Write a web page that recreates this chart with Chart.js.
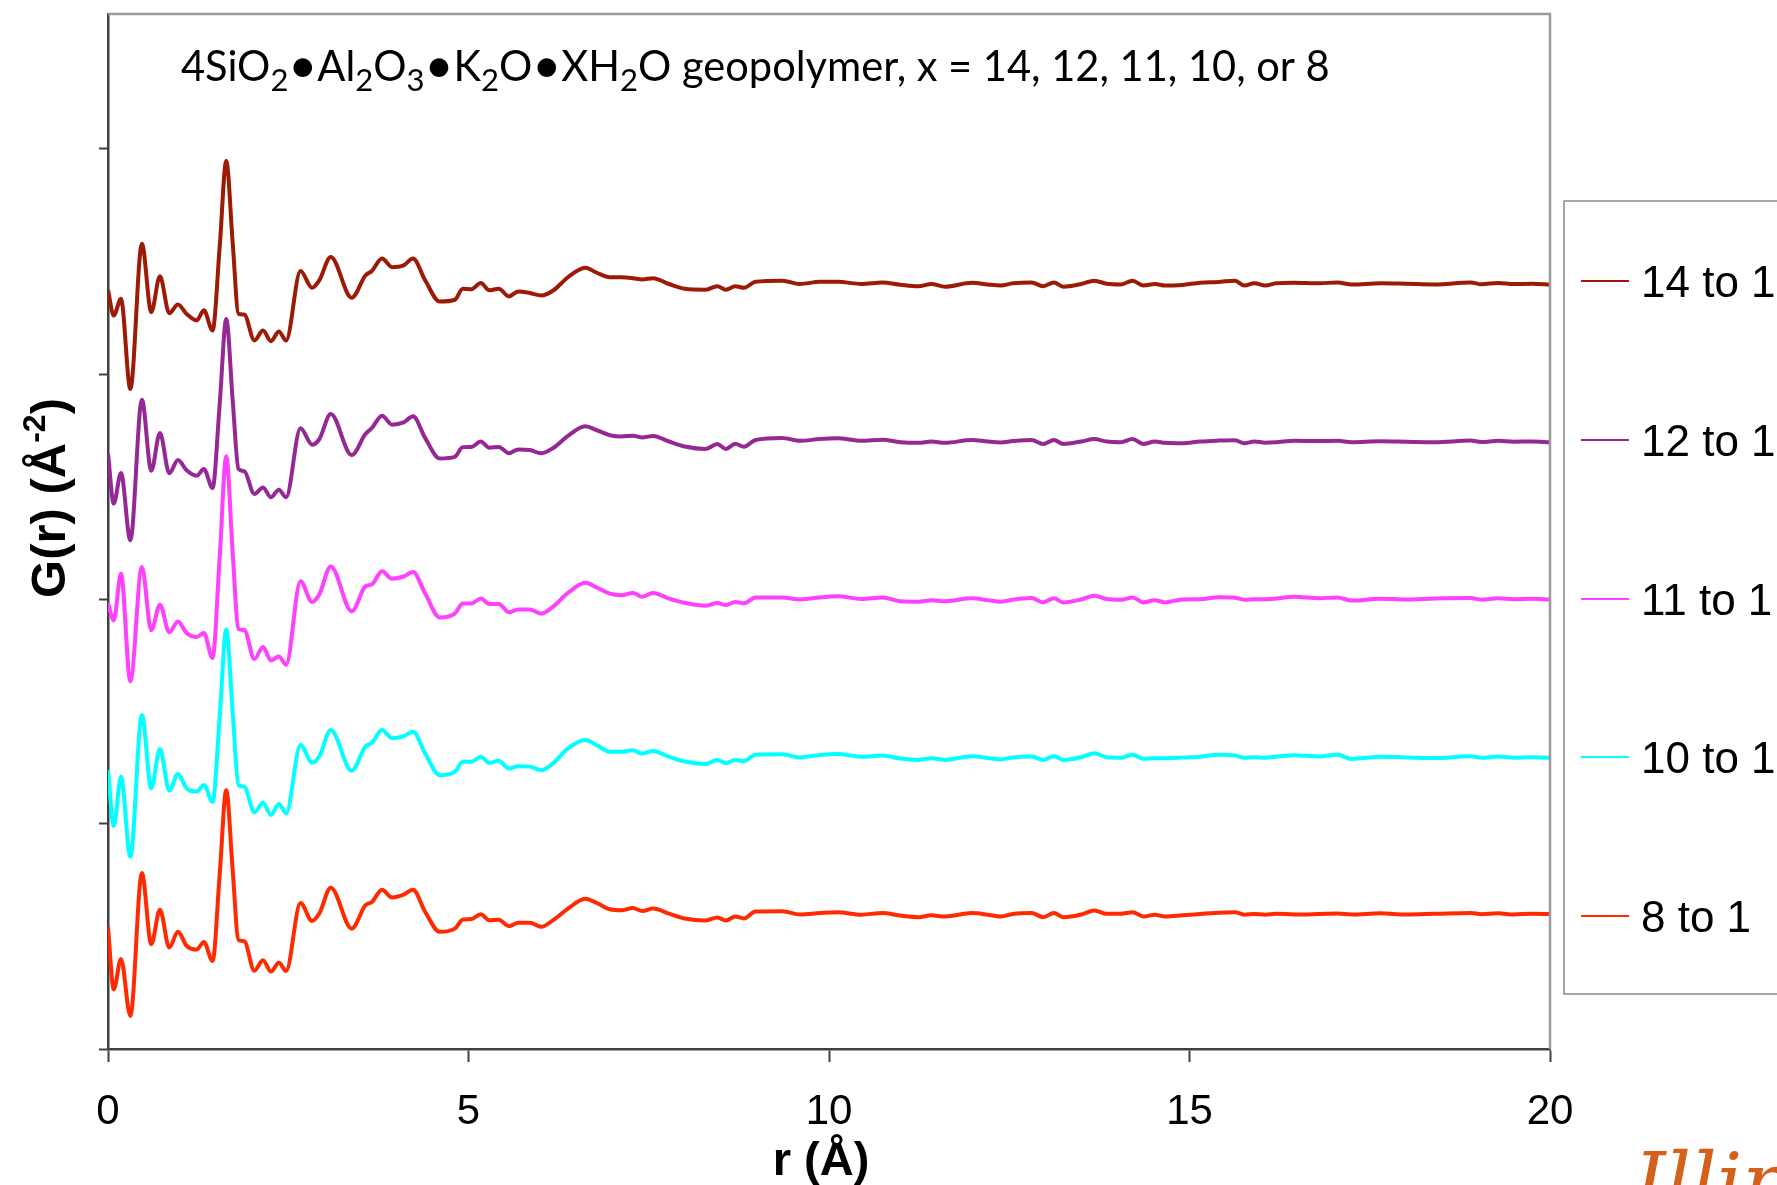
<!DOCTYPE html>
<html><head><meta charset="utf-8">
<script src="https://cdn.jsdelivr.net/npm/chart.js@4.4.1/dist/chart.umd.min.js"></script>
<style>html,body{margin:0;padding:0;background:#fff;overflow:hidden}#wrap{position:relative;width:1777px;height:1185px}</style>
</head><body><div id="wrap"><canvas id="c" width="1777" height="1185"></canvas></div>
<script>
// r (Å) sample positions shared by all series
const r = [
  0, 0.08, 0.18, 0.31, 0.47, 0.60, 0.72, 0.85, 0.97, 1.09, 1.23, 1.33, 1.45,
  1.55, 1.64, 1.73, 1.81, 1.89, 2.03, 2.15, 2.26, 2.37, 2.47,
  2.67, 2.83, 2.93, 3.09, 3.38, 3.57, 3.66, 3.80, 3.94, 4.10, 4.23,
  4.40, 4.60, 4.81, 4.92, 5.04, 5.17, 5.29, 5.42, 5.56, 5.69, 5.85, 6.01,
  6.17, 6.38, 6.62, 6.78, 6.96, 7.12, 7.28, 7.41, 7.56, 7.78, 8.00,
  8.29, 8.45, 8.57, 8.70, 8.82, 8.98, 9.35, 9.60, 9.87, 10.12, 10.45, 10.74, 10.99, 11.24,
  11.42, 11.61, 11.98, 12.20, 12.38, 12.55, 12.81, 12.97, 13.12, 13.25, 13.50, 13.68, 13.85, 14.05,
  14.21, 14.36, 14.52, 14.66, 14.90, 15.15, 15.40, 15.63, 15.76, 15.90, 16.05, 16.20, 16.45, 16.80,
  17.05, 17.25, 17.65, 18.00, 18.40, 18.90, 19.05, 19.28, 19.50, 19.75, 20.00
];
// plotted G(r) values (stacked, arbitrary units; axis ticks every 1.0)
const g14 = [
  3.374, 3.26, 3.334, 2.933, 3.579, 3.275, 3.434, 3.27, 3.309, 3.267, 3.238, 3.283, 3.193,
  3.57, 3.947, 3.58, 3.267, 3.264, 3.149, 3.193, 3.146, 3.189, 3.149,
  3.458, 3.383, 3.416, 3.52, 3.339, 3.438, 3.458, 3.513, 3.475, 3.483, 3.513,
  3.416, 3.322, 3.33, 3.379, 3.377, 3.404, 3.372, 3.379, 3.345, 3.367, 3.36, 3.349,
  3.370, 3.43, 3.472, 3.45, 3.43, 3.43, 3.426, 3.42, 3.426, 3.40, 3.379,
  3.375, 3.39, 3.375, 3.39, 3.383, 3.41, 3.415, 3.40, 3.41, 3.41, 3.40, 3.407, 3.397, 3.39,
  3.40, 3.388, 3.406, 3.398, 3.393, 3.403, 3.407, 3.39, 3.407, 3.388, 3.40, 3.415, 3.401, 3.398,
  3.415, 3.393, 3.40, 3.393, 3.396, 3.406, 3.409, 3.415, 3.393, 3.403, 3.393, 3.403, 3.406, 3.403,
  3.407, 3.398, 3.403, 3.401, 3.398, 3.407, 3.399, 3.405, 3.400, 3.401, 3.397
];
const g12 = [
  2.647, 2.424, 2.56, 2.261, 2.886, 2.570, 2.738, 2.559, 2.618, 2.572, 2.548, 2.578, 2.493,
  2.87, 3.244, 2.88, 2.578, 2.568, 2.467, 2.496, 2.452, 2.486, 2.452,
  2.759, 2.686, 2.71, 2.822, 2.64, 2.733, 2.76, 2.815, 2.775, 2.785, 2.812,
  2.715, 2.625, 2.632, 2.675, 2.676, 2.70, 2.672, 2.676, 2.648, 2.665, 2.662, 2.648,
  2.670, 2.725, 2.768, 2.75, 2.728, 2.722, 2.726, 2.718, 2.725, 2.70, 2.678,
  2.667, 2.689, 2.667, 2.690, 2.677, 2.707, 2.716, 2.703, 2.711, 2.714, 2.703, 2.708, 2.697, 2.694,
  2.700, 2.694, 2.707, 2.700, 2.696, 2.702, 2.707, 2.689, 2.707, 2.689, 2.700, 2.711, 2.700, 2.697,
  2.711, 2.689, 2.700, 2.694, 2.692, 2.700, 2.704, 2.706, 2.692, 2.700, 2.695, 2.697, 2.703, 2.702,
  2.703, 2.697, 2.701, 2.699, 2.697, 2.704, 2.698, 2.703, 2.699, 2.700, 2.697
];
const g11 = [
  1.982, 1.905, 2.113, 1.634, 2.142, 1.861, 1.975, 1.852, 1.90, 1.849, 1.831, 1.849, 1.738,
  2.19, 2.634, 2.20, 1.867, 1.862, 1.733, 1.787, 1.727, 1.745, 1.708,
  2.079, 1.987, 2.02, 2.145, 1.945, 2.056, 2.065, 2.123, 2.09, 2.10, 2.12,
  2.024, 1.918, 1.935, 1.98, 1.98, 2.002, 1.978, 1.978, 1.941, 1.953, 1.953, 1.935,
  1.965, 2.027, 2.072, 2.051, 2.024, 2.017, 2.027, 2.01, 2.027, 2.002, 1.983,
  1.970, 1.982, 1.973, 1.987, 1.981, 2.007, 2.007, 1.998, 2.007, 2.012, 2.000, 2.007, 1.990, 1.988,
  1.995, 1.990, 2.003, 1.995, 1.988, 1.997, 2.004, 1.985, 2.003, 1.985, 1.998, 2.015, 2.000, 1.997,
  2.007, 1.985, 1.995, 1.985, 1.998, 1.999, 2.008, 2.006, 1.997, 1.999, 1.999, 2.002, 2.010, 2.003,
  2.007, 1.993, 2.001, 1.998, 2.002, 2.004, 1.997, 2.003, 1.999, 2.001, 1.998
];
const g10 = [
  1.24, 0.991, 1.21, 0.854, 1.484, 1.159, 1.333, 1.148, 1.222, 1.159, 1.144, 1.173, 1.099,
  1.48, 1.865, 1.49, 1.173, 1.166, 1.052, 1.095, 1.04, 1.089, 1.047,
  1.351, 1.273, 1.30, 1.418, 1.237, 1.344, 1.36, 1.418, 1.381, 1.39, 1.41,
  1.313, 1.217, 1.232, 1.277, 1.277, 1.299, 1.272, 1.281, 1.247, 1.257, 1.255, 1.239,
  1.269, 1.336, 1.373, 1.35, 1.321, 1.321, 1.328, 1.313, 1.325, 1.299, 1.278,
  1.267, 1.285, 1.270, 1.285, 1.280, 1.308, 1.310, 1.296, 1.307, 1.311, 1.299, 1.304, 1.291, 1.285,
  1.292, 1.285, 1.301, 1.293, 1.287, 1.296, 1.300, 1.285, 1.301, 1.285, 1.297, 1.314, 1.297, 1.295,
  1.308, 1.290, 1.292, 1.292, 1.295, 1.299, 1.308, 1.304, 1.295, 1.297, 1.295, 1.299, 1.306, 1.300,
  1.308, 1.289, 1.299, 1.296, 1.293, 1.301, 1.294, 1.300, 1.295, 1.297, 1.294
];
const g8 = [
  0.543, 0.265, 0.40, 0.147, 0.782, 0.466, 0.619, 0.451, 0.521, 0.459, 0.442, 0.476, 0.391,
  0.78, 1.150, 0.79, 0.484, 0.479, 0.348, 0.395, 0.344, 0.383, 0.347,
  0.649, 0.569, 0.602, 0.717, 0.535, 0.639, 0.653, 0.708, 0.673, 0.686, 0.708,
  0.609, 0.521, 0.535, 0.575, 0.578, 0.599, 0.572, 0.575, 0.546, 0.561, 0.561, 0.543,
  0.572, 0.624, 0.668, 0.649, 0.621, 0.617, 0.627, 0.613, 0.624, 0.602, 0.580,
  0.571, 0.585, 0.571, 0.589, 0.580, 0.611, 0.612, 0.598, 0.604, 0.608, 0.597, 0.604, 0.593, 0.586,
  0.594, 0.589, 0.604, 0.597, 0.589, 0.600, 0.604, 0.586, 0.604, 0.586, 0.598, 0.616, 0.601, 0.601,
  0.608, 0.589, 0.597, 0.589, 0.594, 0.600, 0.606, 0.608, 0.597, 0.600, 0.597, 0.601, 0.598, 0.600,
  0.602, 0.598, 0.603, 0.598, 0.601, 0.605, 0.599, 0.603, 0.598, 0.601, 0.600
];
const seriesLabels = ['14 to 1', '12 to 1', '11 to 1', '10 to 1', '8 to 1'];
const seriesValues = [g14, g12, g11, g10, g8];
const seriesColors = ['#9c1a06', '#952894', '#ff40ff', '#00ffff', '#ff2a00'];
const xTicks = [0, 5, 10, 15, 20];
const yTicks = [0, 1, 2, 3, 4];
const titleSegments = [
  ['4SiO', 'n'], ['2', 's'], ['•', 'b'], ['Al', 'n'], ['2', 's'], ['O', 'n'], ['3', 's'], ['•', 'b'],
  ['K', 'n'], ['2', 's'], ['O', 'n'], ['•', 'b'], ['XH', 'n'], ['2', 's'], ['O geopolymer, x = 14, 12, 11, 10, or 8', 'n']
];
const xTitle = 'r (Å)';
const yTitleMain = 'G(r) (Å', yTitleSup = '-2', yTitleEnd = ')';
const logoText = 'Illinois';

const datasets = seriesValues.map((vals, i) => ({
  label: seriesLabels[i],
  data: r.map((x, k) => ({ x: x, y: vals[k] })),
  borderColor: seriesColors[i],
  backgroundColor: seriesColors[i],
  borderWidth: 4,
  pointRadius: 0,
  fill: false,
  cubicInterpolationMode: 'monotone'
}));

const decor = {
  id: 'decor',
  beforeDraw(chart) {
    const ctx = chart.ctx;
    ctx.save();
    ctx.fillStyle = '#fff';
    ctx.fillRect(0, 0, chart.width, chart.height);
    ctx.restore();
  },
  afterDraw(chart) {
    const ctx = chart.ctx;
    const a = chart.chartArea;
    ctx.save();
    // plot frame top/right
    ctx.strokeStyle = '#9a9a9a';
    ctx.lineWidth = 2.5;
    ctx.beginPath();
    ctx.moveTo(a.left, a.top); ctx.lineTo(a.right, a.top); ctx.lineTo(a.right, a.bottom);
    ctx.stroke();

    // title with subscripts
    const base = 41.6;
    let x = 181;
    const by = 81;
    ctx.fillStyle = '#000';
    ctx.textBaseline = 'alphabetic';
    ctx.textAlign = 'left';
    for (const [t, k] of titleSegments) {
      let size = base, dy = 0;
      if (k === 's') { size = Math.round(base * 0.74); dy = 10; }
      if (k === 'b') { size = Math.round(base * 1.2); dy = 2; }
      ctx.font = size + 'px Lato';
      ctx.fillText(t, x, by + dy);
      x += ctx.measureText(t).width;
    }

    // x title
    ctx.font = 'bold 47px "Liberation Sans", Arial, sans-serif';
    ctx.textAlign = 'center';
    ctx.fillText(xTitle, 821, 1175);

    // y title rotated with superscript
    ctx.save();
    ctx.translate(65, 498);
    ctx.rotate(-Math.PI / 2);
    ctx.textAlign = 'left';
    const fMain = 'bold 49px "Liberation Sans", Arial, sans-serif';
    const fSup = 'bold 32px "Liberation Sans", Arial, sans-serif';
    ctx.font = fMain; const w1 = ctx.measureText(yTitleMain).width;
    ctx.font = fSup; const w2 = ctx.measureText(yTitleSup).width;
    ctx.font = fMain; const w3 = ctx.measureText(yTitleEnd).width;
    let sx = -(w1 + w2 + w3) / 2;
    ctx.font = fMain; ctx.fillText(yTitleMain, sx, 0); sx += w1;
    ctx.font = fSup; ctx.fillText(yTitleSup, sx, -20); sx += w2;
    ctx.font = fMain; ctx.fillText(yTitleEnd, sx, 0);
    ctx.restore();

    // legend
    const lx = 1564, ly0 = 201, ly1 = 994;
    ctx.fillStyle = '#fff';
    ctx.fillRect(lx, ly0, 260, ly1 - ly0);
    ctx.strokeStyle = '#8a8a8a';
    ctx.lineWidth = 1.5;
    ctx.strokeRect(lx, ly0, 260, ly1 - ly0);
    const step = (ly1 - ly0) / chart.data.datasets.length;
    ctx.font = '44px "Liberation Sans", Arial, sans-serif';
    ctx.textAlign = 'left';
    ctx.textBaseline = 'alphabetic';
    chart.data.datasets.forEach((ds, i) => {
      const yy = Math.round(ly0 + step * (i + 0.5)) + 1;
      ctx.strokeStyle = ds.borderColor;
      ctx.lineWidth = 2;
      ctx.beginPath(); ctx.moveTo(1581, yy); ctx.lineTo(1629, yy); ctx.stroke();
      ctx.fillStyle = '#000';
      ctx.fillText(ds.label, 1641, yy + 16);
    });

    // logo fragment
    ctx.fillStyle = '#d4601c';
    ctx.font = 'italic 80px "DejaVu Serif", serif';
    ctx.textAlign = 'left';
    ctx.fillText(logoText, 1634, 1210);
    ctx.restore();
  }
};

new Chart(document.getElementById('c'), {
  type: 'line',
  data: { datasets: datasets },
  options: {
    responsive: false,
    animation: false,
    devicePixelRatio: 1,
    layout: { padding: { left: 0, right: 227, top: 14, bottom: 0 } },
    plugins: { legend: { display: false }, tooltip: { enabled: false }, title: { display: false } },
    scales: {
      x: {
        type: 'linear', min: 0, max: 20,
        afterBuildTicks: s => { s.ticks = xTicks.map(v => ({ value: v })); },
        afterFit: s => { s.height = 136; },
        ticks: { color: '#000', font: { family: '"Liberation Sans", Arial, sans-serif', size: 42 }, padding: 25, maxRotation: 0, autoSkip: false },
        grid: { drawOnChartArea: false, drawTicks: true, tickLength: 13, tickColor: '#404040', tickWidth: 2, color: '#404040' },
        border: { display: true, color: '#404040', width: 2.5 }
      },
      y: {
        type: 'linear', min: 0, max: 4.6,
        afterBuildTicks: s => { s.ticks = yTicks.map(v => ({ value: v })); },
        afterFit: s => { s.width = 108; },
        ticks: { display: false },
        grid: { drawOnChartArea: false, drawTicks: true, tickLength: 9, tickColor: '#404040', tickWidth: 2, color: '#404040' },
        border: { display: true, color: '#404040', width: 2.5 }
      }
    }
  },
  plugins: [decor]
});
</script></body></html>
